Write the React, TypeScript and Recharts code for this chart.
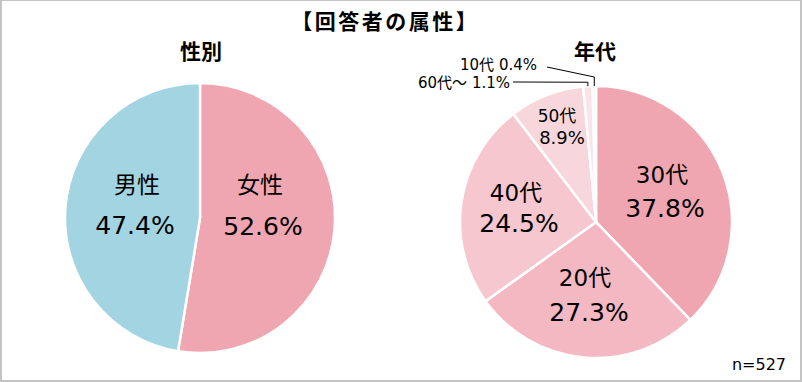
import React from 'react'
import { PieChart, Pie, Cell } from 'recharts'

// 性別
const genderNames = ['女性', '男性']
const genderValues = [52.6, 47.4]
const genderColors = ['#f0a6b1', '#a2d4e1']

// 年代 (clockwise from 12 o'clock)
const ageNames = ['30代', '20代', '40代', '50代', '60代～', '10代']
const ageValues = [37.8, 27.3, 24.5, 8.9, 1.1, 0.4]
const ageColors = ['#f0a6b1', '#f3b8c1', '#f6c7cf', '#f8d7dc', '#fae4e8', '#fdf1f3']

const FONT = "'DejaVu Sans', 'Noto Sans CJK JP', sans-serif"
const RAD = Math.PI / 180

// label offsets from pie centre: [nameDx, nameDy, valueDx, valueDy, nameSize, valueSize]
const INSIDE: Record<string, number[]> = {
  女性: [60, -33, 63, 8, 23, 25],
  男性: [-63, -33, -65, 7, 23, 25],
  '30代': [66, -47, 69, -14, 23, 25],
  '20代': [-11, 56, -7, 90, 23, 25],
  '40代': [-80, -29, -77, 1, 23, 25],
  '50代': [-39, -106, -34, -85, 17, 18],
}

// outside labels: [elbowUp, lineEndDx, lineEndDy, textEndDx, textDy]
const OUTSIDE: Record<string, number[]> = {
  '10代': [9, -49, -155, -59, -157],
  '60代～': [4, -83, -140, -86, -139],
}

const genderData = genderNames.map((name, i) => ({ name, value: genderValues[i] }))
const ageData = ageNames.map((name, i) => ({ name, value: ageValues[i] }))

const renderLabel = (props: any) => {
  const { cx, cy, midAngle, outerRadius, name, value } = props
  const text = `${Number(value).toFixed(1)}%`
  const inside = INSIDE[name]
  if (inside) {
    const [ndx, ndy, vdx, vdy, ns, vs] = inside
    return (
      <g>
        <text x={cx + ndx} y={cy + ndy} textAnchor="middle" dominantBaseline="central"
          fontFamily={FONT} fontSize={ns} fill="#000">{name}</text>
        <text x={cx + vdx} y={cy + vdy} textAnchor="middle" dominantBaseline="central"
          fontFamily={FONT} fontSize={vs} fill="#000">{text}</text>
      </g>
    )
  }
  const out = OUTSIDE[name]
  if (!out) return null
  const [up, lx, ly, tx, ty] = out
  const ex = cx + outerRadius * Math.cos(-midAngle * RAD)
  const ey = cy + outerRadius * Math.sin(-midAngle * RAD)
  return (
    <g>
      <polyline points={`${ex},${ey} ${ex},${ey - up} ${cx + lx},${cy + ly}`}
        fill="none" stroke="#000" strokeWidth={1} />
      <text x={cx + tx} y={cy + ty} textAnchor="end" dominantBaseline="central"
        fontFamily={FONT} fontSize={15} fill="#000">{`${name} ${text}`}</text>
    </g>
  )
}

const heading = (x: number, y: number, size: number, spacing = 0): React.CSSProperties => ({
  position: 'absolute',
  left: x - 150 + spacing / 2,
  top: y - size / 2 - 3,
  width: 300,
  textAlign: 'center',
  fontFamily: FONT,
  fontWeight: 'bold',
  fontSize: size,
  letterSpacing: spacing,
  lineHeight: `${size + 6}px`,
  color: '#000',
})

export default function App() {
  return (
    <div
      style={{
        position: 'fixed',
        left: 0,
        top: 0,
        width: 802,
        height: 382,
        background: '#fff',
        boxSizing: 'border-box',
        borderStyle: 'solid',
        borderColor: '#c4c4c4',
        borderWidth: '1px 2px 2px 2px',
      }}
    >
      <div style={{ position: 'absolute', left: -2, top: -1 }}>
        <PieChart width={802} height={382} margin={{ top: 0, right: 0, bottom: 0, left: 0 }}>
          <Pie
            data={genderData}
            dataKey="value"
            nameKey="name"
            cx={200}
            cy={218}
            outerRadius={135}
            startAngle={90}
            endAngle={-270}
            stroke="#fff"
            strokeWidth={2.5}
            label={renderLabel}
            labelLine={false}
            isAnimationActive={false}
          >
            {genderData.map((d, i) => (
              <Cell key={d.name} fill={genderColors[i]} />
            ))}
          </Pie>
          <Pie
            data={ageData}
            dataKey="value"
            nameKey="name"
            cx={596}
            cy={222}
            outerRadius={136}
            startAngle={90}
            endAngle={-270}
            stroke="#fff"
            strokeWidth={2.5}
            label={renderLabel}
            labelLine={false}
            isAnimationActive={false}
          >
            {ageData.map((d, i) => (
              <Cell key={d.name} fill={ageColors[i]} />
            ))}
          </Pie>
        </PieChart>
        <div style={heading(384, 22, 21, 2.5)}>【回答者の属性】</div>
        <div style={heading(201, 52, 21)}>性別</div>
        <div style={heading(595, 52, 21)}>年代</div>
        <div
          style={{
            position: 'absolute',
            right: 802 - 786,
            top: 355,
            fontFamily: FONT,
            fontSize: 16,
            lineHeight: '20px',
            color: '#000',
          }}
        >
          n=527
        </div>
      </div>
    </div>
  )
}
